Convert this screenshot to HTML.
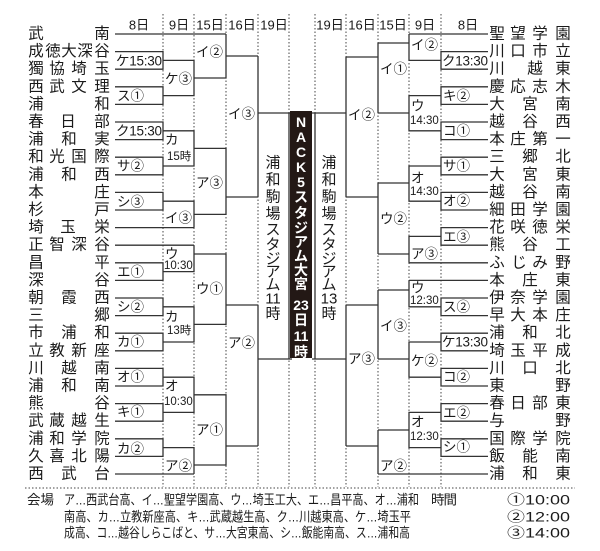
<!DOCTYPE html>
<html><head><meta charset="utf-8"><style>
html,body{margin:0;padding:0;background:#fff;}
svg{display:block;}
.t{font-family:"Liberation Sans","Noto Sans CJK JP",sans-serif;font-size:15.5px;fill:#1a1a1a;dominant-baseline:central;text-anchor:middle;}
.l{font-family:"Liberation Sans","Noto Sans CJK JP",sans-serif;font-size:13.5px;fill:#1a1a1a;dominant-baseline:central;}
.s{font-family:"Liberation Sans","Noto Sans CJK JP",sans-serif;font-size:11.5px;fill:#1a1a1a;dominant-baseline:central;}
.h{font-family:"Liberation Sans","Noto Sans CJK JP",sans-serif;font-size:13px;fill:#1a1a1a;dominant-baseline:central;text-anchor:middle;}
.v{font-family:"Liberation Sans","Noto Sans CJK JP",sans-serif;font-size:15px;fill:#1a1a1a;dominant-baseline:central;text-anchor:middle;}
.w{font-family:"Liberation Sans","Noto Sans CJK JP",sans-serif;font-size:14px;font-weight:bold;fill:#fff;dominant-baseline:central;text-anchor:middle;}
.f{font-family:"Liberation Sans","Noto Sans CJK JP",sans-serif;font-size:13.5px;fill:#1a1a1a;dominant-baseline:central;}
</style></head><body>
<svg width="600" height="551" viewBox="0 0 600 551" xmlns="http://www.w3.org/2000/svg">
<rect width="600" height="551" fill="#fff"/>
<g stroke="#444" stroke-width="1" stroke-dasharray="1.5,2">
<path d="M163 14V487M194 14V487M226 14V487M258 14V487M289 14V487M315 14V487M346 14V487M378 14V487M409 14V487M441 14V487M25 488H575"/>
</g>
<text class="h" x="139" y="25">8日</text>
<text class="h" x="179" y="25">9日</text>
<text class="h" x="210" y="25">15日</text>
<text class="h" x="242" y="25">16日</text>
<text class="h" x="274" y="25">19日</text>
<text class="h" x="330" y="25">19日</text>
<text class="h" x="362" y="25">16日</text>
<text class="h" x="393" y="25">15日</text>
<text class="h" x="425" y="25">9日</text>
<text class="h" x="468" y="25">8日</text>
<g stroke="#333" stroke-width="1.3" fill="none">
<path d="M115 51.6H163V69.2H115M115 86.8H163V104.4H115M115 122H163V139.6H115M115 157.2H163V174.8H115M115 192.4H163V210H115M115 262.8H163V280.4H115M115 298H163V315.6H115M115 333.2H163V350.8H115M115 368.4H163V386H115M115 403.6H163V421.2H115M115 438.8H163V456.4H115"/>
<path d="M115 34H226M115 227.6H194M115 245.2H194M115 474H194"/>
<path d="M163 60.4H194V95.6H163M163 130.8H194V166H163M163 201.2H194V227.6M194 245.2V271.6H163M163 306.8H194V342H163M163 377.2H194V412.4H163M163 447.6H194V474"/>
<path d="M194 78H226V34M194 148.4H226V214.4H194M194 254H226V324.4H194M194 394.8H226V465H194"/>
<path d="M226 56H258M226 197H258M226 305H258M226 446H258"/>
<path d="M258 56V197M258 305V446M258 113H292M258 359H292M289 113V359"/>
<path d="M488 51.6H441V69.2H488M488 86.8H441V104.4H488M488 122H441V139.6H488M488 157.2H441V174.8H488M488 192.4H441V210H488M488 227.6H441V245.2H488M488 298H441V315.6H488M488 333.2H441V350.8H488M488 368.4H441V386H488M488 403.6H441V421.2H488M488 438.8H441V456.4H488"/>
<path d="M488 34H409M488 262.8H409M488 280.4H409M488 474H378"/>
<path d="M441 60.4H409V34M441 95.6H409V130.8H441M441 166H409V201.2H441M441 236.4H409V262.8M409 280.4V306.8H441M441 342H409V377.2H441M441 412.4H409V447.6H441"/>
<path d="M409 43H378M409 113H378M409 183H378M409 254H378M409 290H378M409 359H378M409 430H378"/>
<path d="M378 43V113M378 183V254M378 290V359M378 430V474M378 57H346M378 197H346M378 305H346M378 446H346"/>
<path d="M346 57V197M346 305V446M346 113H312M346 359H312M315 113V359"/>
</g>
<rect x="290" y="111" width="22" height="247" fill="#231815"/>
<text class="w" x="301" y="122">N</text>
<text class="w" x="301" y="137">A</text>
<text class="w" x="301" y="152">C</text>
<text class="w" x="301" y="167">K</text>
<text class="w" x="301" y="182">5</text>
<text class="w" x="301" y="197">ス</text>
<text class="w" x="301" y="213">タ</text>
<text class="w" x="301" y="228">ジ</text>
<text class="w" x="301" y="242">ア</text>
<text class="w" x="301" y="256">ム</text>
<text class="w" x="301" y="270">大</text>
<text class="w" x="301" y="284">宮</text>
<text class="w" x="301" y="305">23</text>
<text class="w" x="301" y="320">日</text>
<text class="w" x="301" y="336">11</text>
<text class="w" x="301" y="352">時</text>
<g>
<text class="v" x="273" y="163">浦</text><text class="v" x="273" y="180">和</text><text class="v" x="273" y="197">駒</text><text class="v" x="273" y="214">場</text><text class="v" x="273" y="230">ス</text><text class="v" x="273" y="245">タ</text><text class="v" x="273" y="259">ジ</text><text class="v" x="273" y="272">ア</text><text class="v" x="273" y="285">ム</text><text class="v" x="273" y="299">11</text><text class="v" x="273" y="314">時</text>
<text class="v" x="329" y="163">浦</text><text class="v" x="329" y="180">和</text><text class="v" x="329" y="197">駒</text><text class="v" x="329" y="214">場</text><text class="v" x="329" y="230">ス</text><text class="v" x="329" y="245">タ</text><text class="v" x="329" y="259">ジ</text><text class="v" x="329" y="272">ア</text><text class="v" x="329" y="285">ム</text><text class="v" x="329" y="299">13</text><text class="v" x="329" y="314">時</text>
</g>
<text class="t" x="36 102" y="34">武南</text>
<text class="t" x="36 53 69 85 102" y="51.6">成徳大深谷</text>
<text class="t" x="36 57 79 102" y="69.2">獨協埼玉</text>
<text class="t" x="36 57 79 102" y="86.8">西武文理</text>
<text class="t" x="36 102" y="104.4">浦和</text>
<text class="t" x="36 68 102" y="122">春日部</text>
<text class="t" x="36 69 102" y="139.6">浦和実</text>
<text class="t" x="36 57 79 102" y="157.2">和光国際</text>
<text class="t" x="36 69 102" y="174.8">浦和西</text>
<text class="t" x="36 102" y="192.4">本庄</text>
<text class="t" x="36 102" y="210">杉戸</text>
<text class="t" x="36 68 102" y="227.6">埼玉栄</text>
<text class="t" x="36 57 79 102" y="245.2">正智深谷</text>
<text class="t" x="36 102" y="262.8">昌平</text>
<text class="t" x="36 102" y="280.4">深谷</text>
<text class="t" x="36 69 102" y="298">朝霞西</text>
<text class="t" x="36 102" y="315.6">三郷</text>
<text class="t" x="36 69 102" y="333.2">市浦和</text>
<text class="t" x="36 57 79 102" y="350.8">立教新座</text>
<text class="t" x="36 69 102" y="368.4">川越南</text>
<text class="t" x="36 69 102" y="386">浦和南</text>
<text class="t" x="36 102" y="403.6">熊谷</text>
<text class="t" x="36 57 79 102" y="421.2">武蔵越生</text>
<text class="t" x="36 57 79 102" y="438.8">浦和学院</text>
<text class="t" x="36 57 79 102" y="456.4">久喜北陽</text>
<text class="t" x="36 69 102" y="474">西武台</text>
<text class="t" x="497 518 540 563" y="34">聖望学園</text>
<text class="t" x="497 518 540 563" y="51.6">川口市立</text>
<text class="t" x="497 535 563" y="69.2">川越東</text>
<text class="t" x="497 518 540 563" y="86.8">慶応志木</text>
<text class="t" x="497 530 563" y="104.4">大宮南</text>
<text class="t" x="497 530 563" y="122">越谷西</text>
<text class="t" x="497 518 540 563" y="139.6">本庄第一</text>
<text class="t" x="497 530 563" y="157.2">三郷北</text>
<text class="t" x="497 530 563" y="174.8">大宮東</text>
<text class="t" x="497 530 563" y="192.4">越谷南</text>
<text class="t" x="497 518 540 563" y="210">細田学園</text>
<text class="t" x="497 518 540 563" y="227.6">花咲徳栄</text>
<text class="t" x="497 530 563" y="245.2">熊谷工</text>
<text class="t" x="497 519 540 563" y="262.8">ふじみ野</text>
<text class="t" x="497 530 563" y="280.4">本庄東</text>
<text class="t" x="497 518 540 563" y="298">伊奈学園</text>
<text class="t" x="497 518 540 563" y="315.6">早大本庄</text>
<text class="t" x="497 530 563" y="333.2">浦和北</text>
<text class="t" x="497 518 540 563" y="350.8">埼玉平成</text>
<text class="t" x="497 530 563" y="368.4">川口北</text>
<text class="t" x="497 563" y="386">東野</text>
<text class="t" x="497 518 540 563" y="403.6">春日部東</text>
<text class="t" x="497 563" y="421.2">与野</text>
<text class="t" x="497 518 540 563" y="438.8">国際学院</text>
<text class="t" x="497 530 563" y="456.4">飯能南</text>
<text class="t" x="497 530 563" y="474">浦和東</text>
<text class="l" x="116" y="61" textLength="46">ケ15:30</text>
<text class="l" x="117" y="96">ス①</text>
<text class="l" x="116" y="131" textLength="46">ク15:30</text>
<text class="l" x="117" y="166">サ②</text>
<text class="l" x="117" y="202">シ③</text>
<text class="l" x="117" y="272">エ①</text>
<text class="l" x="117" y="307">シ②</text>
<text class="l" x="117" y="342">カ①</text>
<text class="l" x="117" y="377">オ①</text>
<text class="l" x="117" y="412">キ①</text>
<text class="l" x="117" y="449">カ②</text>
<text class="l" x="165" y="79">ケ③</text>
<text class="l" x="165" y="140">カ</text>
<text class="s" x="167" y="157">15時</text>
<text class="l" x="165" y="218">イ③</text>
<text class="l" x="165" y="254">ウ</text>
<text class="s" x="164" y="266">10:30</text>
<text class="l" x="165" y="317">カ</text>
<text class="s" x="167" y="331">13時</text>
<text class="l" x="165" y="386">オ</text>
<text class="s" x="164" y="402">10:30</text>
<text class="l" x="165" y="466">ア②</text>
<text class="l" x="196" y="52">イ②</text>
<text class="l" x="196" y="183">ア③</text>
<text class="l" x="196" y="289">ウ①</text>
<text class="l" x="196" y="430">ア①</text>
<text class="l" x="228" y="114">イ③</text>
<text class="l" x="228" y="343">ア②</text>
<text class="l" x="442" y="61" textLength="46">ク13:30</text>
<text class="l" x="443" y="96">キ②</text>
<text class="l" x="443" y="131">コ①</text>
<text class="l" x="443" y="166">サ①</text>
<text class="l" x="443" y="201">オ②</text>
<text class="l" x="443" y="237">エ③</text>
<text class="l" x="443" y="307">ス②</text>
<text class="l" x="442" y="342" textLength="46">ケ13:30</text>
<text class="l" x="443" y="377">コ②</text>
<text class="l" x="443" y="413">エ②</text>
<text class="l" x="443" y="447">シ①</text>
<text class="l" x="411" y="45">イ②</text>
<text class="l" x="411" y="106">ウ</text>
<text class="s" x="410" y="121">14:30</text>
<text class="l" x="411" y="178">オ</text>
<text class="s" x="410" y="192">14:30</text>
<text class="l" x="411" y="254">ア③</text>
<text class="l" x="411" y="288">ウ</text>
<text class="s" x="410" y="301">12:30</text>
<text class="l" x="411" y="361">ケ②</text>
<text class="l" x="411" y="422">オ</text>
<text class="s" x="410" y="437">12:30</text>
<text class="l" x="380" y="69">イ①</text>
<text class="l" x="380" y="219">ウ②</text>
<text class="l" x="380" y="326">イ③</text>
<text class="l" x="380" y="466">ア②</text>
<text class="l" x="348" y="115">イ②</text>
<text class="l" x="348" y="359">ア③</text>
<text class="f" x="27" y="500" textLength="27">会場</text>
<text class="f" x="64" y="500" textLength="355" lengthAdjust="spacingAndGlyphs">ア…西武台高、イ…聖望学園高、ウ…埼玉工大、エ…昌平高、オ…浦和</text>
<text class="f" x="431" y="500" textLength="26">時間</text>
<text class="f" x="507" y="500" textLength="63" lengthAdjust="spacingAndGlyphs">①10:00</text>
<text class="f" x="64" y="517" textLength="347" lengthAdjust="spacingAndGlyphs">南高、カ…立教新座高、キ…武蔵越生高、ク…川越東高、ケ…埼玉平</text>
<text class="f" x="507" y="517" textLength="63" lengthAdjust="spacingAndGlyphs">②12:00</text>
<text class="f" x="64" y="533" textLength="346" lengthAdjust="spacingAndGlyphs">成高、コ…越谷しらこばと、サ…大宮東高、シ…飯能南高、ス…浦和高</text>
<text class="f" x="507" y="533" textLength="63" lengthAdjust="spacingAndGlyphs">③14:00</text>
</svg>
</body></html>
